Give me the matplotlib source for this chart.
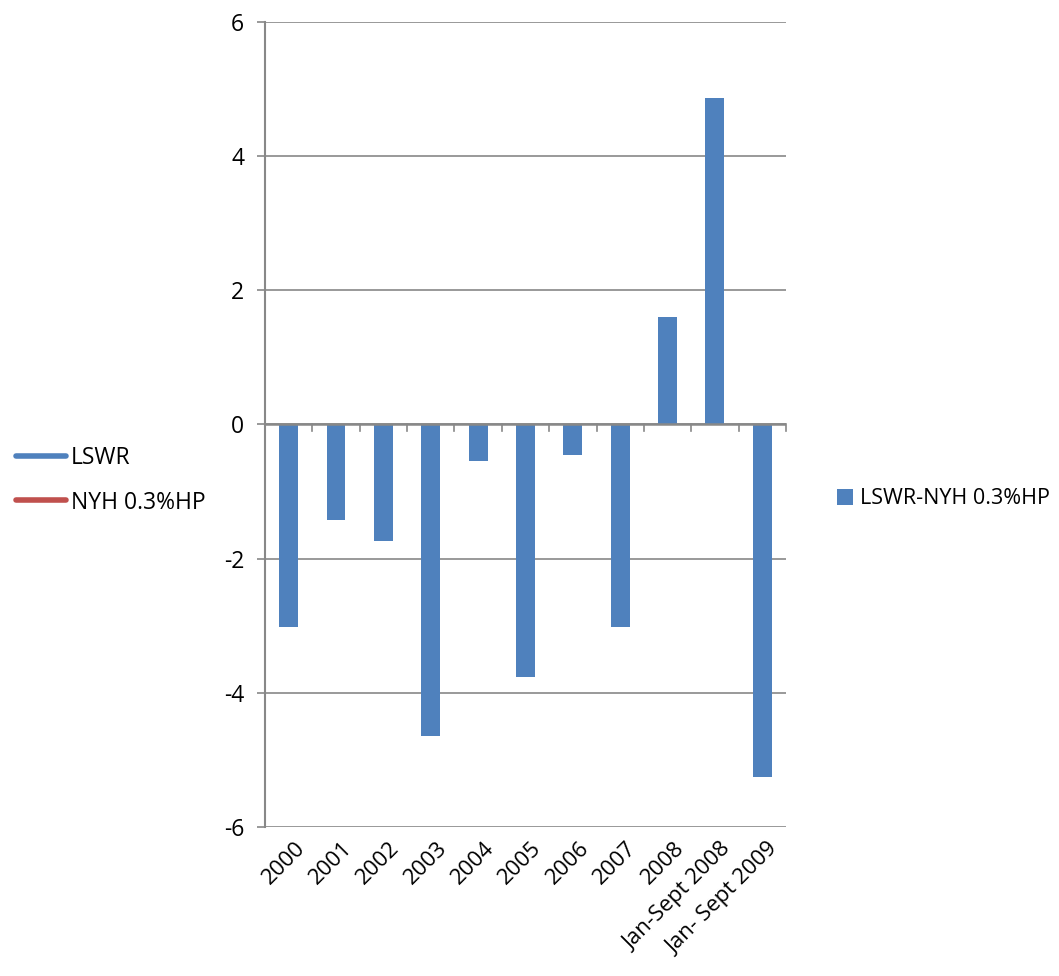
import matplotlib.pyplot as plt
from matplotlib.lines import Line2D
from matplotlib.patches import Patch

categories = ["2000", "2001", "2002", "2003", "2004", "2005", "2006", "2007",
              "2008", "Jan-Sept 2008", "Jan- Sept 2009"]
diff_values = [-3.02, -1.43, -1.73, -4.65, -0.54, -3.77, -0.45, -3.02,
               1.60, 4.87, -5.25]
yticks = [-6, -4, -2, 0, 2, 4, 6]

blue = "#4F81BD"
red = "#C0504D"
grey = "#888888"

plt.rcParams['font.family'] = ['Open Sans', 'DejaVu Sans']

fig = plt.figure(figsize=(10.59, 9.76), dpi=100)
ax = fig.add_axes([0.2502, 0.1527, 0.4920, 0.8248])

x = list(range(len(categories)))
ax.bar(x, diff_values, width=0.4, color=blue, zorder=3)

ax.set_xlim(-0.5, len(categories) - 0.5)
ax.set_ylim(-6, 6)
ax.set_yticks(yticks)
ax.set_yticklabels([str(v) for v in yticks], fontsize=16.5)
ax.yaxis.grid(True, color=grey, linewidth=1.2, zorder=0)
ax.tick_params(axis='y', length=6, color=grey, width=1.2, pad=9)

# category axis drawn at zero
ax.set_xticks([])
ax.axhline(0, color=grey, linewidth=1.8, zorder=4)
for b in [i - 0.5 for i in range(len(categories) + 1)]:
    ax.plot([b, b], [0, -0.1], color=grey, linewidth=1.2, zorder=4, clip_on=False)

for i, lab in enumerate(categories):
    ax.annotate(lab, xy=(i, -6), xycoords='data', xytext=(4, -8),
                textcoords='offset points', rotation=45, ha='right', va='top',
                rotation_mode='anchor', fontsize=16)

for s in ['top', 'right', 'bottom']:
    ax.spines[s].set_visible(False)
ax.spines['left'].set_color(grey)
ax.spines['left'].set_linewidth(1.5)

# legends
left_handles = [Line2D([0], [0], color=blue, linewidth=4, solid_capstyle='round'),
                Line2D([0], [0], color=red, linewidth=4, solid_capstyle='round')]
fig.legend(left_handles, ["LSWR", "NYH 0.3%HP"], loc='center left',
           bbox_to_anchor=(0.0, 0.508), frameon=False, fontsize=16.5,
           handlelength=2.2, handletextpad=0.2, labelspacing=0.9, borderaxespad=0.3)

right_handles = [Patch(facecolor=blue)]
fig.legend(right_handles, ["LSWR-NYH 0.3%HP"], loc='center left',
           bbox_to_anchor=(0.772, 0.489), frameon=False, fontsize=15.5,
           handlelength=0.75, handleheight=0.75, handletextpad=0.3)

fig.savefig("out.png", dpi=100)
plt.close()
